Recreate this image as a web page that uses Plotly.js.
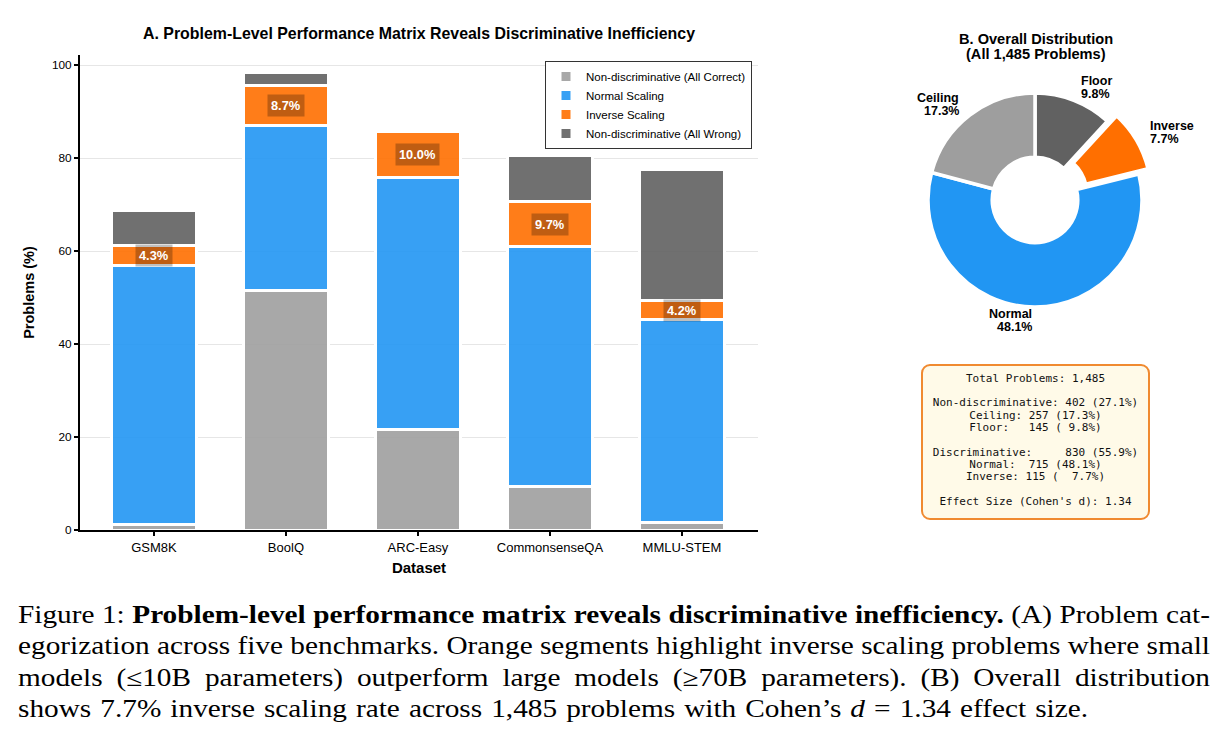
<!DOCTYPE html>
<html>
<head>
<meta charset="utf-8">
<script src="https://cdn.plot.ly/plotly-3.0.1.min.js"></script>
<style>
  html, body { margin: 0; padding: 0; background: #fff; }
  #wrap { position: relative; width: 1224px; height: 751px; overflow: hidden; background: #fff; }
  #chart { position: absolute; left: 0; top: 0; width: 1224px; height: 751px; }
  #stats {
    position: absolute; left: 921px; top: 364px; width: 229px; height: 156px;
    box-sizing: border-box; border: 2px solid #F08A30; border-radius: 9px;
    background: #FFFAE8; padding-top: 6.8px;
    font-family: 'DejaVu Sans Mono', monospace; font-size: 11px; line-height: 12.3px;
    white-space: pre; text-align: center; color: #111;
  }
  #caption {
    position: absolute; left: 18px; top: 599px; transform-origin: 0 0;
    font-family: 'Liberation Serif', 'Times New Roman', serif; font-size: 24.5px;
    line-height: 31.33px; color: #000;
  }
  #caption .ln { white-space: nowrap; }
</style>
</head>
<body>
<div id="wrap">
  <div id="chart"></div>
  <div id="stats"></div>
  <div id="caption">
    <div class="ln"><span>Figure 1: <b>Problem-level performance matrix reveals discriminative inefficiency.</b> (A) Problem cat-</span></div>
    <div class="ln"><span>egorization across five benchmarks. Orange segments highlight inverse scaling problems where small</span></div>
    <div class="ln"><span>models (≤10B parameters) outperform large models (≥70B parameters). (B) Overall distribution</span></div>
    <div class="ln"><span>shows 7.7% inverse scaling rate across 1,485 problems with Cohen’s <i>d</i> = 1.34 effect size.</span></div>
  </div>
</div>
<script>
// ---- Panel A: share of problems per category and benchmark (%) ----
const datasets = ['GSM8K', 'BoolQ', 'ARC-Easy', 'CommonsenseQA', 'MMLU-STEM'];
const ceilingPct = [1.2, 51.6, 21.6, 9.3, 1.6];    // non-discriminative, all correct
const normalPct  = [55.7, 35.3, 54.2, 51.6, 43.6]; // normal scaling
const inversePct = [4.3, 8.7, 10.0, 9.7, 4.2];     // inverse scaling
const floorPct   = [7.5, 2.7, 0.0, 10.0, 28.2];    // non-discriminative, all wrong

// ---- Panel B: overall distribution ----
const pieLabels = ['Floor', 'Inverse', 'Normal', 'Ceiling'];
const pieValues = [9.8, 7.7, 48.1, 17.3];
const piePull   = [0, 0.1, 0, 0];

// ---- Summary box ----
const totalProblems = '1,485';
const ceilingCount = 257, floorCount = 145, normalCount = 715, inverseCount = 115;
const nonDiscCount = 402, nonDiscPct = 27.1, discCount = 830, discPct = 55.9;
const cohensD = 1.34;

const W = 1224, H = 751;
const FONT = 'Liberation Sans, Arial, sans-serif';
const px = x => x / W;
const py = y => 1 - y / H;

const colors = {
  ceiling: 'rgba(158,158,158,0.9)',
  normal:  'rgba(33,150,243,0.9)',
  inverse: 'rgba(255,111,0,0.9)',
  floor:   'rgba(97,97,97,0.9)'
};
const pieColors = ['#616161', '#FF6F00', '#2196F3', '#9E9E9E'];

function barTrace(name, vals, color) {
  return {
    type: 'bar', name: name, x: datasets, y: vals, width: 0.65,
    marker: { color: color, line: { color: '#ffffff', width: 3 } },
    hoverinfo: 'skip'
  };
}

const traces = [
  barTrace('Non-discriminative (All Correct)', ceilingPct, colors.ceiling),
  barTrace('Normal Scaling', normalPct, colors.normal),
  barTrace('Inverse Scaling', inversePct, colors.inverse),
  barTrace('Non-discriminative (All Wrong)', floorPct, colors.floor)
];

// donut geometry (pixels)
const PIE_CX = 1035, PIE_CY = 200, PIE_R = 107;
const maxPull = Math.max(...piePull);
const half = PIE_R * (1 + maxPull);
traces.push({
  type: 'pie', labels: pieLabels, values: pieValues, pull: piePull,
  sort: false, direction: 'clockwise', rotation: 0, hole: 0.4,
  marker: { colors: pieColors, line: { color: '#ffffff', width: 3.5 } },
  textinfo: 'none', hoverinfo: 'skip', showlegend: false,
  domain: { x: [px(PIE_CX - half), px(PIE_CX + half)], y: [py(PIE_CY + half), py(PIE_CY - half)] }
});

const annotations = [];

// inverse-scaling labels on the orange segments
datasets.forEach((d, i) => {
  annotations.push({
    x: d, y: ceilingPct[i] + normalPct[i] + inversePct[i] / 2, xref: 'x', yref: 'y',
    xanchor: 'center', yanchor: 'middle',
    text: '<b>' + inversePct[i].toFixed(1) + '%</b>', showarrow: false,
    font: { family: FONT, size: 12.8, color: '#ffffff' },
    bgcolor: 'rgba(0,0,0,0.25)', borderpad: 3
  });
});

// panel titles
function paperText(x, y, text, size, xanchor) {
  annotations.push({
    x: px(x), y: py(y), xref: 'paper', yref: 'paper', showarrow: false,
    xanchor: xanchor || 'center', yanchor: 'middle',
    text: text, font: { family: FONT, size: size, color: '#000' }
  });
}
paperText(419, 33, '<b>A. Problem-Level Performance Matrix Reveals Discriminative Inefficiency</b>', 15.9);
paperText(1035.5, 38.5, '<b>B. Overall Distribution</b>', 14.6);
paperText(1035.5, 53.5, '<b>(All 1,485 Problems)</b>', 14.6);

// donut slice labels placed along each slice's bisector
const pieTotal = pieValues.reduce((a, b) => a + b, 0);
let start = 90;
pieValues.forEach((v, i) => {
  const sweep = 360 * v / pieTotal;
  const mid = (start - sweep / 2) * Math.PI / 180;
  start -= sweep;
  const r = PIE_R * 1.13 + piePull[i] * PIE_R;
  const lx = PIE_CX + r * Math.cos(mid);
  const ly = PIE_CY - r * Math.sin(mid);
  const anchor = Math.cos(mid) >= 0 ? 'left' : 'right';
  paperText(lx, ly - 6.5, '<b>' + pieLabels[i] + '</b>', 12.5, anchor);
  paperText(lx, ly + 6.5, '<b>' + v.toFixed(1) + '%</b>', 12.5, anchor);
});

const layout = {
  width: W, height: H,
  margin: { l: 0, r: 0, t: 0, b: 0 },
  paper_bgcolor: '#ffffff', plot_bgcolor: '#ffffff',
  font: { family: FONT, color: '#000' },
  barmode: 'stack', bargap: 0.35,
  showlegend: true,
  legend: {
    x: px(752), y: py(61), xanchor: 'right', yanchor: 'top',
    traceorder: 'normal', bgcolor: '#ffffff', bordercolor: '#333333', borderwidth: 1,
    font: { family: FONT, size: 11.5, color: '#000' }
  },
  xaxis: {
    domain: [px(80), px(758)], range: [-0.56, 4.576], type: 'category',
    showline: true, linecolor: '#000', linewidth: 2, mirror: false,
    ticks: 'outside', ticklen: 4, tickwidth: 1.2, tickcolor: '#000',
    tickfont: { family: FONT, size: 13, color: '#000' },
    showgrid: false, zeroline: false,
    title: { text: '<b>Dataset</b>', font: { family: FONT, size: 15, color: '#000' }, standoff: 9 }
  },
  yaxis: {
    domain: [py(530), py(55)], range: [0, 102.15],
    tickvals: [0, 20, 40, 60, 80, 100],
    showline: true, linecolor: '#000', linewidth: 2, mirror: false,
    ticks: 'outside', ticklen: 4, tickwidth: 1.2, tickcolor: '#000',
    tickfont: { family: FONT, size: 11.8, color: '#000' },
    showgrid: true, gridcolor: '#e6e6e6', gridwidth: 1, zeroline: false,
    title: { text: '<b>Problems (%)</b>', font: { family: FONT, size: 14.5, color: '#000' }, standoff: 14 }
  },
  annotations: annotations
};

Plotly.newPlot('chart', traces, layout, { staticPlot: true, displayModeBar: false });

// summary box text
const statLines = [
  'Total Problems: ' + totalProblems,
  '',
  'Non-discriminative: ' + nonDiscCount + ' (' + nonDiscPct.toFixed(1) + '%)',
  'Ceiling: ' + ceilingCount + ' (' + pieValues[3].toFixed(1) + '%)',
  'Floor:   ' + floorCount + ' ( ' + pieValues[0].toFixed(1) + '%)',
  '',
  'Discriminative:     ' + discCount + ' (' + discPct.toFixed(1) + '%)',
  'Normal:  ' + normalCount + ' (' + pieValues[2].toFixed(1) + '%)',
  'Inverse: ' + inverseCount + ' (  ' + pieValues[1].toFixed(1) + '%)',
  '',
  "Effect Size (Cohen's d): " + cohensD.toFixed(2)
];
document.getElementById('stats').textContent = statLines.join('\n');

// caption: stretch the text block horizontally and justify the full lines
// by distributing the leftover width over the word gaps
(function layoutCaption() {
  const cap = document.getElementById('caption');
  const spans = Array.from(cap.querySelectorAll('.ln > span'));
  const FULL = 1192, LAST = 1070;
  const nat = spans.map(s => s.getBoundingClientRect().width);
  const widest = Math.max(...nat.slice(0, 3));
  const s = Math.min(LAST / nat[3], FULL / widest);
  cap.style.transform = 'scaleX(' + s + ')';
  spans.forEach((sp, i) => {
    const target = (i < 3 ? FULL : LAST) / s;
    const gaps = (sp.textContent.match(/ /g) || []).length;
    if (gaps > 0) sp.style.wordSpacing = ((target - nat[i]) / gaps) + 'px';
  });
})();
</script>
</body>
</html>
